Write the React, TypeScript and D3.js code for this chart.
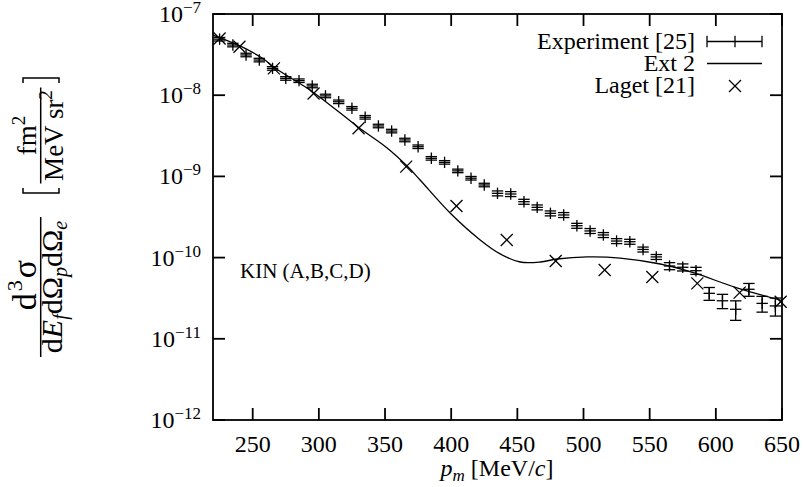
import React from "react";
import * as d3 from "d3";

const W = 803;
const H = 487;

const xTicks = [250, 300, 350, 400, 450, 500, 550, 600, 650];
const yExps = [-7, -8, -9, -10, -11, -12];

// Experiment [25]
const expX = [225, 235, 245, 255, 265, 275, 285, 295, 305, 315, 325, 335, 345, 355, 365, 375, 385, 395, 405, 415, 425, 435, 445, 455, 465, 475, 485, 495, 505, 515, 525, 535, 545, 555, 565, 575, 585, 595, 605, 615, 625, 635, 645];
const expY = [4.9e-8, 4.15e-8, 3.13e-8, 2.71e-8, 2.14e-8, 1.61e-8, 1.51e-8, 1.30e-8, 9.8e-9, 8.3e-9, 6.9e-9, 5.35e-9, 4.18e-9, 3.62e-9, 2.81e-9, 2.32e-9, 1.67e-9, 1.49e-9, 1.17e-9, 9.5e-10, 7.84e-10, 6.19e-10, 6.07e-10, 4.88e-10, 4.16e-10, 3.51e-10, 3.35e-10, 2.47e-10, 2.13e-10, 1.90e-10, 1.60e-10, 1.57e-10, 1.26e-10, 1.02e-10, 7.88e-11, 7.60e-11, 6.90e-11, 3.63e-11, 2.94e-11, 2.31e-11, 4.07e-11, 2.73e-11, 2.54e-11];
const expRelErr = [0.05, 0.05, 0.05, 0.05, 0.05, 0.05, 0.05, 0.05, 0.05, 0.05, 0.05, 0.05, 0.05, 0.05, 0.05, 0.05, 0.05, 0.05, 0.05, 0.05, 0.05, 0.07, 0.07, 0.07, 0.07, 0.07, 0.07, 0.07, 0.07, 0.07, 0.07, 0.07, 0.07, 0.07, 0.1, 0.1, 0.1, 0.18, 0.2, 0.27, 0.18, 0.22, 0.25];

// Ext 2
const theoryX = [220, 240.4, 257.1, 266.9, 295.6, 329.6, 351.6, 366.7, 376.5, 399.2, 421.9, 437, 452.1, 467.3, 480.1, 502.8, 527.7, 558, 583, 614.7, 650];
const theoryY = [5.51e-8, 4.04e-8, 2.87e-8, 2.16e-8, 1.09e-8, 4.06e-9, 2.24e-9, 1.34e-9, 9.03e-10, 3.54e-10, 1.65e-10, 1.11e-10, 8.83e-11, 8.83e-11, 9.61e-11, 1.02e-10, 9.88e-11, 8.34e-11, 6.52e-11, 4.31e-11, 2.96e-11];

// Laget [21]
const lagetX = [225, 240, 266, 296, 330, 366, 404, 442, 479, 516, 552, 586, 618, 649];
const lagetY = [5.0e-8, 3.95e-8, 2.14e-8, 1.05e-8, 3.91e-9, 1.32e-9, 4.31e-10, 1.65e-10, 9.08e-11, 7.03e-11, 5.77e-11, 4.82e-11, 3.70e-11, 2.86e-11];

const legendLabels = ["Experiment [25]", "Ext 2", "Laget [21]"];

const FONT = "'Liberation Serif', 'Times New Roman', serif";

export default function App() {
  const left = 213, right = 782, top = 14, bottom = 420;
  const x = d3.scaleLinear().domain([220, 650]).range([left, right]);
  const y = d3.scaleLog().domain([1e-12, 1e-7]).range([bottom, top]);
  const tick = 12;
  const ms = 5.7; // marker half-size
  const lineGen = d3
    .line<number>()
    .x((_, i) => x(theoryX[i]))
    .y((d) => y(d))
    .curve(d3.curveCatmullRom.alpha(0.5));

  const axisStroke = 1.8;
  const dataStroke = 1.3;

  return (
    <svg width={W} height={H} style={{ position: "absolute", left: 0, top: 0, background: "#fff" }} fontFamily={FONT}>
      <rect x={0} y={0} width={W} height={H} fill="#fff" />
      {/* ticks */}
      <g stroke="#000" strokeWidth={axisStroke}>
        {xTicks.map((t) => (
          <g key={"xt" + t}>
            <line x1={x(t)} x2={x(t)} y1={bottom} y2={bottom - tick} />
            <line x1={x(t)} x2={x(t)} y1={top} y2={top + tick} />
          </g>
        ))}
        {yExps.map((e) => (
          <g key={"yt" + e}>
            <line x1={left} x2={left + tick} y1={y(Math.pow(10, e))} y2={y(Math.pow(10, e))} />
            <line x1={right} x2={right - tick} y1={y(Math.pow(10, e))} y2={y(Math.pow(10, e))} />
          </g>
        ))}
        <rect x={left} y={top} width={right - left} height={bottom - top} fill="none" />
      </g>
      {/* tick labels */}
      <g fontSize={24} fill="#000">
        {xTicks.map((t) => (
          <text key={"xl" + t} x={x(t)} y={452} textAnchor="middle">
            {t}
          </text>
        ))}
        {yExps.map((e) => (
          <text key={"yl" + e} x={201} y={y(Math.pow(10, e)) + 8} textAnchor="end">
            10
            <tspan fontSize={17} dy={-9}>
              {"\u2212" + Math.abs(e)}
            </tspan>
          </text>
        ))}
      </g>
      {/* x title */}
      <text x={497} y={476} fontSize={24} textAnchor="middle">
        <tspan fontStyle="italic">p</tspan>
        <tspan fontStyle="italic" fontSize={17} dy={5}>m</tspan>
        <tspan dy={-5}> [MeV/</tspan>
        <tspan fontStyle="italic">c</tspan>
        <tspan>]</tspan>
      </text>
      {/* y title: units */}
      <g transform="translate(40.7,135.5) rotate(-90)" fontSize={27}>
        <text x={0} y={-5} textAnchor="middle">
          fm<tspan fontSize={19} dy={-11}>2</tspan>
        </text>
        <line x1={-48} x2={48} y1={0} y2={0} stroke="#000" strokeWidth={1.5} />
        <text x={0} y={22} textAnchor="middle">
          MeV sr<tspan fontSize={19} dy={-11}>2</tspan>
        </text>
        <path d="M -52.5,-17.7 L -57.5,-17.7 L -57.5,18.3 L -52.5,18.3" fill="none" stroke="#000" strokeWidth={1.5} />
        <path d="M 52.5,-17.7 L 57.5,-17.7 L 57.5,18.3 L 52.5,18.3" fill="none" stroke="#000" strokeWidth={1.5} />
      </g>
      {/* y title: main fraction */}
      <g transform="translate(40.7,287) rotate(-90)">
        <text x={3} y={-5} textAnchor="middle" fontSize={34} letterSpacing={2}>
          d<tspan fontSize={22} dy={-14}>3</tspan>
          <tspan dy={14}>σ</tspan>
        </text>
        <line x1={-70} x2={70} y1={0} y2={0} stroke="#000" strokeWidth={1.5} />
        <text x={0} y={21} textAnchor="middle" fontSize={30}>
          d<tspan fontStyle="italic">E</tspan>
          <tspan fontStyle="italic" fontSize={20} dy={5}>f</tspan>
          <tspan dy={-5}>dΩ</tspan>
          <tspan fontStyle="italic" fontSize={20} dy={5}>p</tspan>
          <tspan dy={-5}>dΩ</tspan>
          <tspan fontStyle="italic" fontSize={20} dy={5}>e</tspan>
        </text>
      </g>
      {/* KIN label */}
      <text x={240} y={278} fontSize={21}>
        KIN (A,B,C,D)
      </text>
      {/* theory curve */}
      <path d={lineGen(theoryY) || ""} fill="none" stroke="#000" strokeWidth={dataStroke} />
      {/* experiment */}
      <g stroke="#000" strokeWidth={dataStroke} fill="none">
        {expX.map((xv, i) => {
          const cx = x(xv);
          const cy = y(expY[i]);
          const lo = y(expY[i] * (1 - expRelErr[i]));
          const hi = y(expY[i] * (1 + expRelErr[i]));
          return (
            <g key={"e" + i}>
              <line x1={cx} x2={cx} y1={hi} y2={lo} />
              <line x1={cx - ms} x2={cx + ms} y1={hi} y2={hi} />
              <line x1={cx - ms} x2={cx + ms} y1={lo} y2={lo} />
              <line x1={cx - ms} x2={cx + ms} y1={cy} y2={cy} />
              <line x1={cx} x2={cx} y1={cy - ms} y2={cy + ms} />
            </g>
          );
        })}
      </g>
      {/* Laget */}
      <g stroke="#000" strokeWidth={dataStroke}>
        {lagetX.map((xv, i) => {
          const cx = x(xv);
          const cy = y(lagetY[i]);
          const s = 6;
          return (
            <g key={"l" + i}>
              <line x1={cx - s} x2={cx + s} y1={cy - s} y2={cy + s} />
              <line x1={cx - s} x2={cx + s} y1={cy + s} y2={cy - s} />
            </g>
          );
        })}
      </g>
      {/* legend */}
      <g fontSize={24} textAnchor="end">
        <text x={695} y={49}>{legendLabels[0]}</text>
        <text x={695} y={71}>{legendLabels[1]}</text>
        <text x={695} y={93}>{legendLabels[2]}</text>
      </g>
      <g stroke="#000" strokeWidth={dataStroke}>
        <line x1={707} x2={762} y1={41.5} y2={41.5} />
        <line x1={707} x2={707} y1={41.5 - ms} y2={41.5 + ms} />
        <line x1={762} x2={762} y1={41.5 - ms} y2={41.5 + ms} />
        <line x1={735} x2={735} y1={41.5 - ms} y2={41.5 + ms} />
        <line x1={707} x2={762} y1={63.5} y2={63.5} />
        <line x1={729} x2={741} y1={80} y2={92} />
        <line x1={729} x2={741} y1={92} y2={80} />
      </g>
    </svg>
  );
}
